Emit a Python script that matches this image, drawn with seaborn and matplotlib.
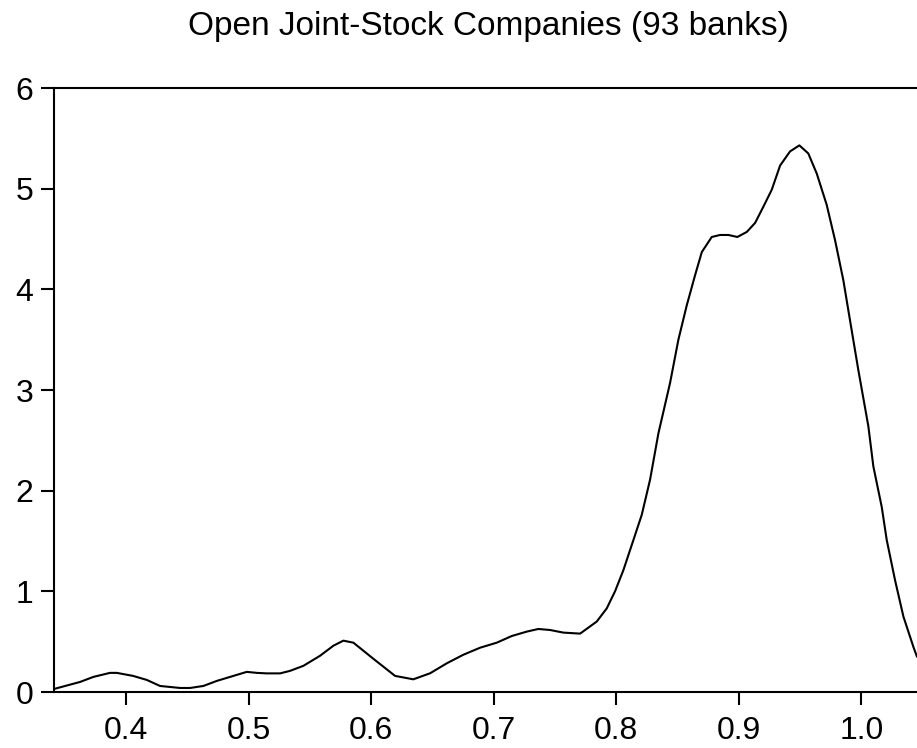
import matplotlib
matplotlib.use("Agg")
import matplotlib.pyplot as plt
import seaborn as sns
import pandas as pd

# Kernel density estimate of bank efficiency scores
score = [
    0.3412, 0.3625, 0.3733, 0.3869, 0.3924, 0.4057, 0.4169, 0.4277, 0.4441, 0.4522,
    0.4631, 0.4740, 0.4876, 0.4985, 0.5067, 0.5148, 0.5257, 0.5338, 0.5447, 0.5583,
    0.5692, 0.5773, 0.5855, 0.6018, 0.6195, 0.6344, 0.6481, 0.6617, 0.6752, 0.6889,
    0.7025, 0.7147, 0.7270, 0.7364, 0.7460, 0.7568, 0.7705, 0.7841, 0.7922, 0.7990,
    0.8058, 0.8140, 0.8208, 0.8276, 0.8344, 0.8439, 0.8507, 0.8575, 0.8643, 0.8698,
    0.8779, 0.8847, 0.8915, 0.8988, 0.9065, 0.9133, 0.9200, 0.9269, 0.9337, 0.9418,
    0.9494, 0.9567, 0.9636, 0.9717, 0.9785, 0.9853, 0.9894, 0.9975, 1.0057, 1.0098,
    1.0166, 1.0207, 1.0275, 1.0343, 1.0424, 1.0454,
]
density = [
    0.03, 0.10, 0.15, 0.19, 0.19, 0.16, 0.12, 0.06, 0.04, 0.04,
    0.06, 0.11, 0.16, 0.20, 0.19, 0.185, 0.185, 0.21, 0.26, 0.36,
    0.46, 0.51, 0.49, 0.33, 0.16, 0.126, 0.186, 0.285, 0.37, 0.44,
    0.49, 0.556, 0.60, 0.626, 0.616, 0.59, 0.58, 0.70, 0.83, 1.00,
    1.21, 1.51, 1.76, 2.11, 2.57, 3.07, 3.50, 3.84, 4.14, 4.37,
    4.52, 4.54, 4.54, 4.52, 4.57, 4.66, 4.82, 4.99, 5.23, 5.37,
    5.43, 5.35, 5.15, 4.84, 4.49, 4.09, 3.79, 3.20, 2.64, 2.24,
    1.84, 1.51, 1.11, 0.75, 0.45, 0.35,
]
x_ticks = [0.4, 0.5, 0.6, 0.7, 0.8, 0.9, 1.0]
x_tick_labels = ["0.4", "0.5", "0.6", "0.7", "0.8", "0.9", "1.0"]
y_ticks = [0, 1, 2, 3, 4, 5, 6]
title = "Open Joint-Stock Companies (93 banks)"

sns.set_style("ticks")
plt.rcParams["font.family"] = ["Liberation Sans", "DejaVu Sans"]

df = pd.DataFrame({"score": score, "density": density})

fig = plt.figure(figsize=(9.17, 7.48), dpi=100)
ax = fig.add_axes([54 / 917, 56 / 748, 1 - 54 / 917, (692 - 88) / 748])

sns.lineplot(data=df, x="score", y="density", ax=ax, color="black",
             linewidth=1.5, sort=False, estimator=None)

ax.set_xlim(0.3412, 1.0454)
ax.set_ylim(0, 6)
ax.set_xticks(x_ticks)
ax.set_xticklabels(x_tick_labels)
ax.set_yticks(y_ticks)
ax.set_xlabel("")
ax.set_ylabel("")

for side in ("left", "bottom", "top"):
    ax.spines[side].set_linewidth(1.5)
    ax.spines[side].set_color("black")
ax.spines["right"].set_visible(False)

ax.tick_params(axis="both", direction="out", length=9.5, width=1.5,
               colors="black", labelsize=23)
ax.tick_params(axis="x", pad=7.5)
ax.tick_params(axis="y", pad=5.5)

fig.text(488 / 917, 1 - 26 / 748, title, ha="center", va="center",
         fontsize=24, color="black")

fig.savefig("out.png", dpi=100)
